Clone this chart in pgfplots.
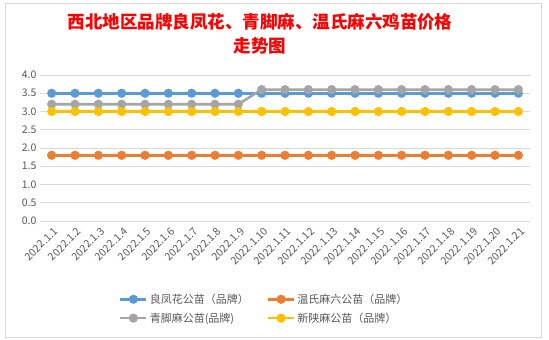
\documentclass[border=0pt]{standalone}
\usepackage{pgfplots}
\pgfplotsset{compat=1.18}
\usepackage{fontspec}
\setmainfont{Noto Sans CJK SC}
\definecolor{cblue}{HTML}{5B9BD5}
\definecolor{corange}{HTML}{ED7D31}
\definecolor{cgray}{HTML}{A5A5A5}
\definecolor{cyellow}{HTML}{FFC000}
\definecolor{gridc}{HTML}{D9D9D9}
\definecolor{tickc}{HTML}{595959}
\begin{document}
\begin{tikzpicture}[x=1pt,y=1pt]
\fill[white] (0,0) rectangle (549,340);
\draw[gridc, line width=0.8pt] (5,3) rectangle (541,337);
\node[text=red, font=\fontsize{17.5}{24}\selectfont\bfseries, align=center] at (260,306)
  {西北地区品牌良凤花、青脚麻、温氏麻六鸡苗价格\\走势图};
\begin{axis}[
  at={(40pt,119pt)}, anchor=south west,
  scale only axis, width=490pt, height=146pt,
  xmin=-0.5, xmax=20.5, ymin=0, ymax=4,
  ytick={0,0.5,...,4},
  /pgf/number format/fixed, /pgf/number format/fixed zerofill, /pgf/number format/precision=1,
  /pgf/number format/assume math mode=true,
  xtick={0,...,20},
  xticklabels={2022.1.1,2022.1.2,2022.1.3,2022.1.4,2022.1.5,2022.1.6,2022.1.7,2022.1.8,2022.1.9,2022.1.10,2022.1.11,2022.1.12,2022.1.13,2022.1.14,2022.1.15,2022.1.16,2022.1.17,2022.1.18,2022.1.19,2022.1.20,2022.1.21},
  xticklabel style={xshift=5pt, yshift=-8pt, rotate=45, anchor=east, font=\fontsize{10.5}{12}\selectfont, text=tickc, inner sep=1pt},
  yticklabel style={font=\fontsize{10.5}{12}\selectfont, text=tickc},
  ymajorgrids, major grid style={gridc, line width=0.8pt},
  axis line style={draw=none},
  major tick style={draw=none},
  legend columns=2,
  legend cell align=left,
  legend style={at={(0.155,-0.47)}, anchor=north west, draw=none, fill=none,
    font=\fontsize{11}{13}\selectfont, text=tickc,
    /tikz/every even column/.append style={column sep=16pt},
    row sep=4pt},
  legend image code/.code={
    \draw[#1, mark repeat=2, mark phase=2] plot coordinates {(0pt,0pt) (13pt,0pt) (26pt,0pt)};},
  every axis plot/.append style={line width=2.6pt, mark=*, mark size=3.2pt},
]
\addplot[cblue, mark options={fill=cblue, draw=cblue}] coordinates {
(0,3.5)(1,3.5)(2,3.5)(3,3.5)(4,3.5)(5,3.5)(6,3.5)(7,3.5)(8,3.5)(9,3.5)(10,3.5)(11,3.5)(12,3.5)(13,3.5)(14,3.5)(15,3.5)(16,3.5)(17,3.5)(18,3.5)(19,3.5)(20,3.5)};
\addlegendentry{良凤花公苗（品牌）}
\addplot[corange, mark options={fill=corange, draw=corange}] coordinates {
(0,1.8)(1,1.8)(2,1.8)(3,1.8)(4,1.8)(5,1.8)(6,1.8)(7,1.8)(8,1.8)(9,1.8)(10,1.8)(11,1.8)(12,1.8)(13,1.8)(14,1.8)(15,1.8)(16,1.8)(17,1.8)(18,1.8)(19,1.8)(20,1.8)};
\addlegendentry{温氏麻六公苗（品牌）}
\addplot[cgray, mark options={fill=cgray, draw=cgray}] coordinates {
(0,3.2)(1,3.2)(2,3.2)(3,3.2)(4,3.2)(5,3.2)(6,3.2)(7,3.2)(8,3.2)(9,3.6)(10,3.6)(11,3.6)(12,3.6)(13,3.6)(14,3.6)(15,3.6)(16,3.6)(17,3.6)(18,3.6)(19,3.6)(20,3.6)};
\addlegendentry{青脚麻公苗(品牌)}
\addplot[cyellow, mark options={fill=cyellow, draw=cyellow}] coordinates {
(0,3.0)(1,3.0)(2,3.0)(3,3.0)(4,3.0)(5,3.0)(6,3.0)(7,3.0)(8,3.0)(9,3.0)(10,3.0)(11,3.0)(12,3.0)(13,3.0)(14,3.0)(15,3.0)(16,3.0)(17,3.0)(18,3.0)(19,3.0)(20,3.0)};
\addlegendentry{新陕麻公苗（品牌）}
\end{axis}
\end{tikzpicture}
\end{document}
